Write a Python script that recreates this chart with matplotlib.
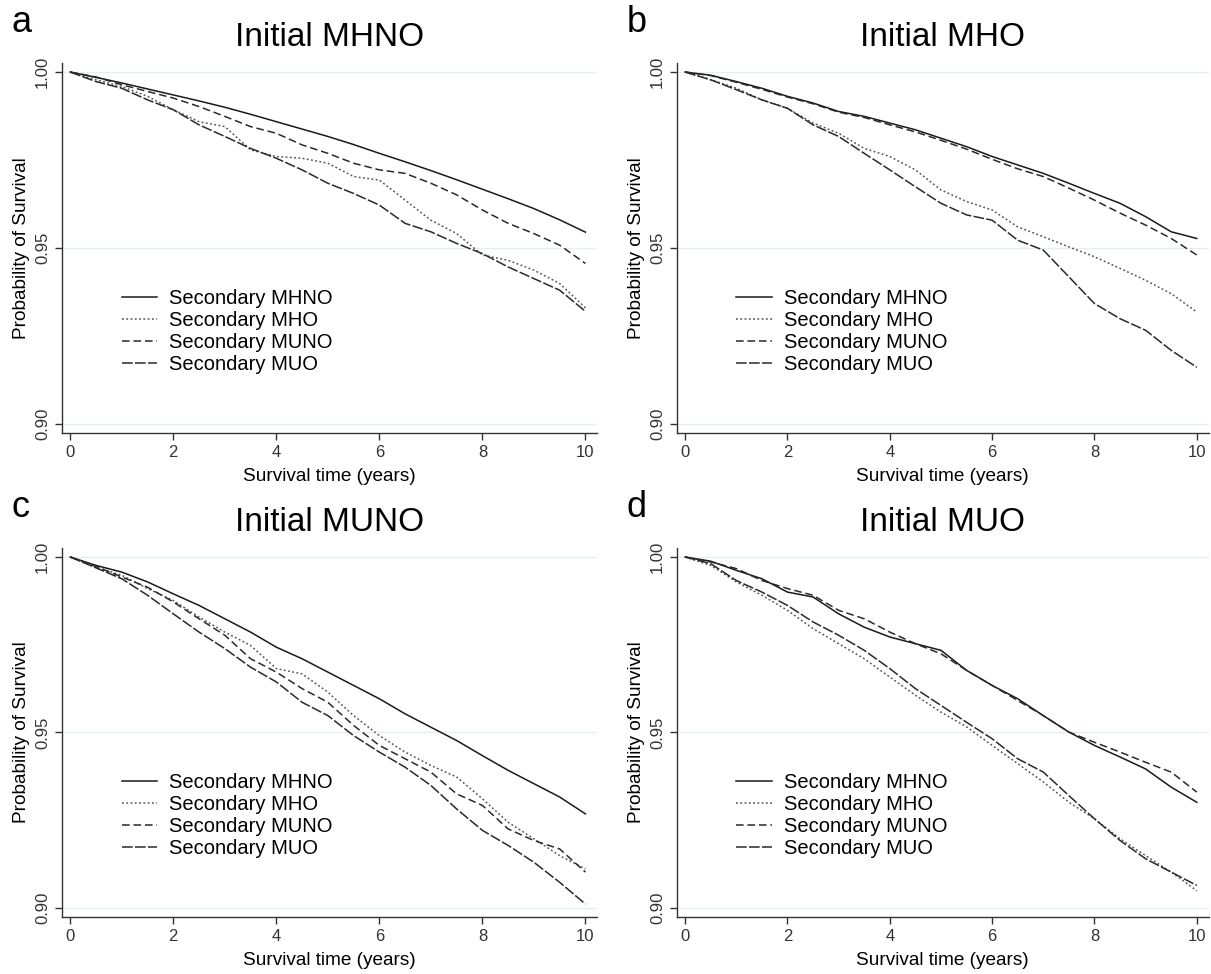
import matplotlib.pyplot as plt

plt.rcParams['font.family'] = ['Liberation Sans', 'DejaVu Sans']

# follow-up time (years)
years = [0, 0.5, 1, 1.5, 2, 2.5, 3, 3.5, 4, 4.5, 5, 5.5, 6, 6.5, 7, 7.5, 8, 8.5, 9, 9.5, 10]

series_names = ["Secondary MHNO", "Secondary MHO", "Secondary MUNO", "Secondary MUO"]
panel_titles = ["Initial MHNO", "Initial MHO", "Initial MUNO", "Initial MUO"]
panel_letters = ["a", "b", "c", "d"]

# panel a: initial MHNO
a_mhno = [1.0, 0.9985, 0.9969, 0.9952, 0.9935, 0.9918, 0.9900, 0.9880, 0.9859, 0.9838, 0.9817,
          0.9794, 0.9769, 0.9745, 0.9720, 0.9694, 0.9667, 0.9640, 0.9612, 0.9580, 0.9545]
a_mho = [1.0, 0.9978, 0.9959, 0.9931, 0.9893, 0.9859, 0.9845, 0.9779, 0.9760, 0.9755, 0.9741,
         0.9703, 0.9693, 0.9636, 0.9579, 0.9541, 0.9480, 0.9465, 0.9437, 0.9399, 0.9330]
a_muno = [1.0, 0.9986, 0.9964, 0.9945, 0.9926, 0.9902, 0.9874, 0.9845, 0.9826, 0.9793, 0.9769,
          0.9741, 0.9722, 0.9712, 0.9684, 0.9651, 0.9608, 0.9570, 0.9541, 0.9508, 0.9456]
a_muo = [1.0, 0.9973, 0.9954, 0.9921, 0.9893, 0.9850, 0.9817, 0.9783, 0.9755, 0.9722, 0.9684,
         0.9655, 0.9622, 0.9570, 0.9546, 0.9513, 0.9484, 0.9446, 0.9413, 0.9380, 0.9320]

# panel b: initial MHO
b_mhno = [1.0, 0.9991, 0.9973, 0.9954, 0.9931, 0.9912, 0.9888, 0.9874, 0.9855, 0.9836, 0.9812,
          0.9788, 0.9760, 0.9736, 0.9712, 0.9684, 0.9655, 0.9627, 0.9589, 0.9546, 0.9527]
b_mho = [1.0, 0.9978, 0.9954, 0.9921, 0.9897, 0.9855, 0.9826, 0.9783, 0.9760, 0.9722, 0.9665,
         0.9632, 0.9608, 0.9560, 0.9532, 0.9503, 0.9475, 0.9442, 0.9408, 0.9370, 0.9318]
b_muno = [1.0, 0.9990, 0.9971, 0.9951, 0.9929, 0.9910, 0.9886, 0.9871, 0.9850, 0.9830, 0.9806,
          0.9781, 0.9752, 0.9725, 0.9703, 0.9670, 0.9636, 0.9599, 0.9565, 0.9527, 0.9480]
b_muo = [1.0, 0.9978, 0.9950, 0.9921, 0.9897, 0.9850, 0.9817, 0.9769, 0.9722, 0.9674, 0.9627,
         0.9594, 0.9579, 0.9522, 0.9494, 0.9418, 0.9342, 0.9299, 0.9266, 0.9209, 0.9161]

# panel c: initial MUNO
c_mhno = [1.0, 0.9976, 0.9957, 0.9929, 0.9895, 0.9862, 0.9824, 0.9786, 0.9743, 0.9710, 0.9672,
          0.9634, 0.9596, 0.9553, 0.9515, 0.9477, 0.9434, 0.9392, 0.9354, 0.9316, 0.9268]
c_mho = [1.0, 0.9971, 0.9948, 0.9910, 0.9876, 0.9829, 0.9786, 0.9748, 0.9682, 0.9667, 0.9615,
         0.9548, 0.9491, 0.9444, 0.9406, 0.9373, 0.9311, 0.9244, 0.9197, 0.9149, 0.9111]
c_muno = [1.0, 0.9973, 0.9943, 0.9914, 0.9872, 0.9824, 0.9777, 0.9710, 0.9672, 0.9625, 0.9586,
          0.9520, 0.9463, 0.9425, 0.9387, 0.9325, 0.9292, 0.9225, 0.9192, 0.9168, 0.9102]
c_muo = [1.0, 0.9969, 0.9938, 0.9891, 0.9838, 0.9786, 0.9739, 0.9686, 0.9644, 0.9586, 0.9548,
         0.9491, 0.9444, 0.9401, 0.9349, 0.9282, 0.9221, 0.9178, 0.9130, 0.9073, 0.9011]

# panel d: initial MUO
d_mhno = [1.0, 0.9988, 0.9962, 0.9938, 0.9900, 0.9886, 0.9838, 0.9800, 0.9772, 0.9753, 0.9734,
          0.9677, 0.9634, 0.9596, 0.9548, 0.9501, 0.9463, 0.9430, 0.9396, 0.9344, 0.9301]
d_mho = [1.0, 0.9976, 0.9929, 0.9891, 0.9848, 0.9796, 0.9753, 0.9710, 0.9658, 0.9606, 0.9558,
         0.9516, 0.9463, 0.9411, 0.9359, 0.9301, 0.9254, 0.9197, 0.9149, 0.9102, 0.9049]
d_muno = [1.0, 0.9986, 0.9967, 0.9933, 0.9910, 0.9891, 0.9848, 0.9824, 0.9786, 0.9753, 0.9724,
          0.9677, 0.9634, 0.9591, 0.9548, 0.9501, 0.9472, 0.9444, 0.9415, 0.9387, 0.9330]
d_muo = [1.0, 0.9981, 0.9933, 0.9900, 0.9862, 0.9815, 0.9777, 0.9734, 0.9682, 0.9625, 0.9577,
         0.9529, 0.9482, 0.9425, 0.9387, 0.9320, 0.9254, 0.9192, 0.9140, 0.9102, 0.9064]

panels = [
    [a_mhno, a_mho, a_muno, a_muo],
    [b_mhno, b_mho, b_muno, b_muo],
    [c_mhno, c_mho, c_muno, c_muo],
    [d_mhno, d_mho, d_muno, d_muo],
]

styles = [
    dict(color='#1a1a1a', linestyle='-', linewidth=1.1),
    dict(color='#555555', linestyle=(0, (1.2, 1.6)), linewidth=1.1),
    dict(color='#2a2a2a', linestyle=(0, (5, 2.5)), linewidth=1.1),
    dict(color='#2a2a2a', linestyle=(0, (7, 1.5)), linewidth=1.1),
]

# axes boxes in figure fraction [left, bottom, width, height]
boxes = [
    [0.0512, 0.5554, 0.4420, 0.3800],
    [0.5590, 0.5554, 0.4390, 0.3800],
    [0.0512, 0.0585, 0.4420, 0.3790],
    [0.5590, 0.0585, 0.4390, 0.3790],
]

fig = plt.figure(figsize=(12.11, 9.74), dpi=100)

for i, box in enumerate(boxes):
    ax = fig.add_axes(box)
    for vals, name, st in zip(panels[i], series_names, styles):
        ax.plot(years, vals, label=name, **st)

    ax.set_xlim(-0.16, 10.23)
    ax.set_ylim(0.8974, 1.0026)
    ax.set_xticks([0, 2, 4, 6, 8, 10])
    ax.set_yticks([0.90, 0.95, 1.00])
    ax.set_yticklabels(["0.90", "0.95", "1.00"], rotation=90, va='center')
    ax.grid(axis='y', color='#e6efef', linewidth=1.0)
    ax.set_axisbelow(True)
    for side in ['top', 'right']:
        ax.spines[side].set_visible(False)
    for side in ['left', 'bottom']:
        ax.spines[side].set_color('#333333')
        ax.spines[side].set_linewidth(1.0)
    ax.tick_params(direction='out', length=5, width=1, color='#333333',
                   labelcolor='#333333', labelsize=12)

    ax.set_title(panel_titles[i], fontsize=24, pad=12)
    ax.set_xlabel("Survival time (years)", fontsize=13.7, labelpad=6)
    ax.set_ylabel("Probability of Survival", fontsize=13.7)

    ax.legend(loc='upper left', bbox_to_anchor=(0.112, 0.39), frameon=False,
              fontsize=14.5, handlelength=1.75, handletextpad=0.6,
              labelspacing=0.15, borderpad=0, borderaxespad=0)

    ax.text(-0.095, 1.11, panel_letters[i], transform=ax.transAxes,
            fontsize=26, va='center', ha='left')

fig.savefig("out.png", dpi=100)
